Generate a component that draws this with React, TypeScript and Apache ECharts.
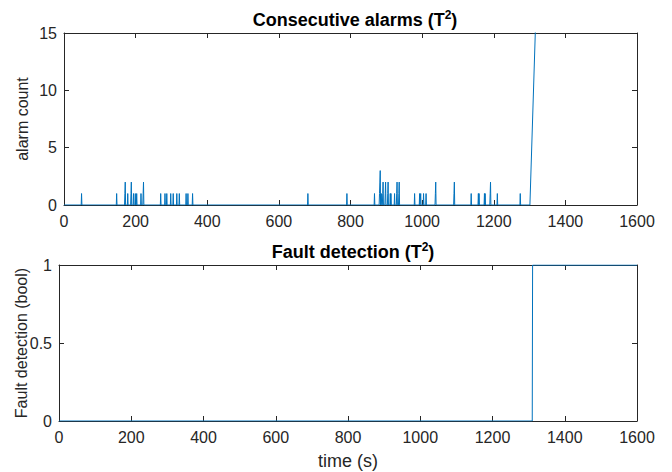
import React, { useEffect, useRef } from "react";
import * as echarts from "echarts";

// Alarm episodes: start time (s) and peak consecutive count
const alarmTimes = [49, 147, 170, 178, 187, 194, 199, 203, 215, 221, 270, 282, 287, 298, 305, 315, 322, 341, 346, 359, 681, 790, 867, 881, 886, 890, 897, 904, 911, 913, 923, 929, 935, 979, 993, 996, 1004, 1011, 1037, 1089, 1137, 1157, 1159, 1174, 1176, 1190, 1210, 1274];
const alarmPeaks = [1, 1, 2, 1, 2, 1, 1, 1, 1, 2, 1, 1, 1, 1, 1, 1, 1, 1, 1, 1, 1, 1, 1, 3, 1, 2, 2, 2, 1, 1, 1, 2, 2, 1, 1, 1, 1, 1, 2, 2, 1, 1, 1, 1, 1, 2, 1, 1];
const rampStart = 1301;
const rampEndTime = 1600;
const rampEndValue = 299;
const faultStart = 1311;
const xTicks = [0, 200, 400, 600, 800, 1000, 1200, 1400, 1600];
const yTicksTop = [0, 5, 10, 15];
const yTicksBottom = [0, 0.5, 1];

const FONT = "Liberation Sans, Arial, sans-serif";
const AX = "#262626";
const LINE = "#0072BD";

function buildAlarmSeries(): number[][] {
  const pts: number[][] = [[0, 0]];
  alarmTimes.forEach((t, i) => {
    const h = alarmPeaks[i];
    pts.push([t - 1, 0]);
    for (let k = 1; k <= h; k++) pts.push([t - 1 + k, k]);
    pts.push([t + h, 0]);
  });
  pts.push([rampStart, 0]);
  pts.push([rampEndTime, rampEndValue]);
  return pts;
}

const faultData = [
  [0, 0],
  [faultStart - 1, 0],
  [faultStart, 1],
  [1600, 1],
];

export default function App() {
  const ref = useRef<HTMLDivElement>(null);
  useEffect(() => {
    if (!ref.current) return;
    const chart = echarts.init(ref.current, null, { renderer: "svg" });
    const tick = { show: true, inside: true, length: 5, lineStyle: { color: AX } };
    const axisLine = { show: true, onZero: false, lineStyle: { color: AX, width: 1 } };
    const label = { color: AX, fontSize: 16, fontFamily: FONT };
    const xBase = {
      type: "value" as const,
      min: 0,
      max: 1600,
      interval: 200,
      splitLine: { show: false },
      axisLine,
      axisTick: tick,
    };
    const xLabel = { ...label, margin: 8, formatter: (v: number) => (xTicks.includes(v) ? String(v) : "") };
    const titleRich = {
      a: { fontSize: 18, fontWeight: "bold" as const, color: "#000", fontFamily: FONT },
      s: { fontSize: 12, fontWeight: "bold" as const, color: "#000", fontFamily: FONT, verticalAlign: "top" as const, padding: [0, 0, 9, 0] },
    };
    const yTop = { type: "value" as const, min: 0, max: 15, interval: 5, splitLine: { show: false }, axisLine, axisTick: tick };
    const yBot = { type: "value" as const, min: 0, max: 1, interval: 0.5, splitLine: { show: false }, axisLine, axisTick: tick };
    chart.setOption({
      animation: false,
      backgroundColor: "#fff",
      title: [
        {
          text: "{a|Consecutive alarms (T}{s|2}{a|)}",
          left: 350,
          top: 4,
          textAlign: "center",
          textStyle: { rich: titleRich },
        },
        {
          text: "{a|Fault detection (T}{s|2}{a|)}",
          left: 348,
          top: 236,
          textAlign: "center",
          textStyle: { rich: titleRich },
        },
      ],
      grid: [
        { left: 64, right: 35, top: 33, height: 172, show: false, containLabel: false, outerBoundsMode: "none" },
        { left: 59, right: 35, top: 265, height: 156, show: false, containLabel: false, outerBoundsMode: "none" },
      ],
      xAxis: [
        { ...xBase, gridIndex: 0, position: "bottom", axisLabel: xLabel },
        { ...xBase, gridIndex: 0, position: "top", axisLabel: { show: false } },
        {
          ...xBase,
          gridIndex: 1,
          position: "bottom",
          axisLabel: xLabel,
          name: "time (s)",
          nameLocation: "middle",
          nameGap: 31,
          nameMoveOverlap: false,
          nameTextStyle: { color: AX, fontSize: 18, fontFamily: FONT },
        },
        { ...xBase, gridIndex: 1, position: "top", axisLabel: { show: false } },
      ],
      yAxis: [
        {
          ...yTop,
          gridIndex: 0,
          position: "left",
          axisLabel: { ...label, margin: 7, formatter: (v: number) => (yTicksTop.includes(v) ? String(v) : "") },
          name: "alarm count",
          nameLocation: "middle",
          nameGap: 34,
          nameMoveOverlap: false,
          nameTextStyle: { color: AX, fontSize: 16, fontFamily: FONT },
        },
        { ...yTop, gridIndex: 0, position: "right", axisLabel: { show: false } },
        {
          ...yBot,
          gridIndex: 1,
          position: "left",
          axisLabel: { ...label, margin: 7, formatter: (v: number) => (yTicksBottom.includes(v) ? String(v) : "") },
          name: "Fault detection (bool)",
          nameLocation: "middle",
          nameGap: 30,
          nameMoveOverlap: false,
          nameTextStyle: { color: AX, fontSize: 16, fontFamily: FONT },
        },
        { ...yBot, gridIndex: 1, position: "right", axisLabel: { show: false } },
      ],
      series: [
        {
          type: "line",
          xAxisIndex: 0,
          yAxisIndex: 0,
          data: buildAlarmSeries(),
          showSymbol: false,
          symbol: "none",
          clip: true,
          lineStyle: { color: LINE, width: 1 },
          z: 1,
        },
        {
          type: "line",
          xAxisIndex: 2,
          yAxisIndex: 2,
          data: faultData,
          showSymbol: false,
          symbol: "none",
          clip: true,
          lineStyle: { color: LINE, width: 1 },
          z: 1,
        },
      ],
    });
    return () => chart.dispose();
  }, []);
  return <div ref={ref} style={{ width: 672, height: 472, position: "absolute", left: 0, top: 0 }} />;
}
